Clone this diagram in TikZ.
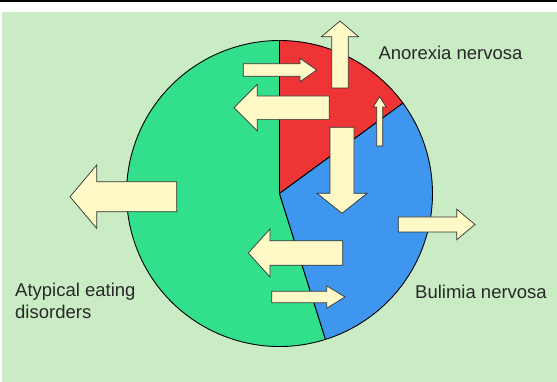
\documentclass[tikz,border=0pt]{standalone}
\usepackage{fontspec}
\setmainfont{Liberation Sans}
\definecolor{bggreen}{RGB}{202,236,196}
\definecolor{piegreen}{RGB}{50,224,140}
\definecolor{piered}{RGB}{238,52,52}
\definecolor{pieblue}{RGB}{62,150,238}
\definecolor{arrfill}{RGB}{255,249,200}
\definecolor{txt}{RGB}{40,40,40}
\tikzset{
  blockarr/.style={fill=arrfill,draw=black!80,line width=0.7pt,line join=miter},
  slice/.style={draw=black,line width=0.9pt,line join=round},
  lbl/.style={font=\fontsize{18.5}{21.7}\selectfont,text=txt,inner sep=0pt}
}
% #1 tail centre, #2 direction angle, #3 length, #4 shaft half width, #5 head half width, #6 head length
\newcommand{\blockarrow}[6]{%
  \draw[blockarr,shift={(#1)},rotate=#2]
    (0,-#4) -- ({#3-#6},-#4) -- ({#3-#6},-#5) -- (#3,0) -- ({#3-#6},#5) -- ({#3-#6},#4) -- (0,#4) -- cycle;}
\begin{document}
\begin{tikzpicture}[x=1pt,y=1pt]
\useasboundingbox (0,0) rectangle (557,-382);
\fill[white] (0,0) rectangle (557,-382);
\fill[black] (0,0) rectangle (557,-2.5);
\fill[bggreen] (2,-12.5) rectangle (557,-382);
% pie
\coordinate (c) at (279.5,-193.5);
\draw[slice,fill=piegreen] (c) -- ++(-72.5:153) arc[start angle=-72.5,end angle=-270,radius=153] -- cycle;
\draw[slice,fill=piered] (c) -- ++(90:153) arc[start angle=90,end angle=36.2,radius=153] -- cycle;
\draw[slice,fill=pieblue] (c) -- ++(36.2:153) arc[start angle=36.2,end angle=-72.5,radius=153] -- cycle;
% arrows
\blockarrow{340,-88}{90}{67}{8.3}{18.5}{15.7}
\blockarrow{243.3,-70}{0}{73.4}{6.3}{11.7}{16.7}
\blockarrow{329.3,-107.7}{180}{95.3}{11.7}{23.3}{23.3}
\blockarrow{379.7,-146}{90}{49.3}{3}{6.5}{10.3}
\blockarrow{342,-127.3}{-90}{86}{12}{25}{20}
\blockarrow{398.3,-224.5}{0}{76.7}{7.5}{15.3}{18.3}
\blockarrow{342.7,-253}{180}{94.4}{12.2}{24}{21.7}
\blockarrow{271.7,-297}{0}{73.3}{5.8}{11.2}{18.3}
\blockarrow{176.7,-196.7}{180}{106.7}{15}{31.7}{26.7}
% labels
\node[lbl,anchor=base west] (an) at (378.3,-60) {Anorexia nervosa};
\node[lbl,anchor=base west] (bn) at (415,-298.3) {Bulimia nervosa};
\node[lbl,anchor=north west,align=left] (ae) at (15,-283) {Atypical eating\\disorders};
\end{tikzpicture}
\end{document}
